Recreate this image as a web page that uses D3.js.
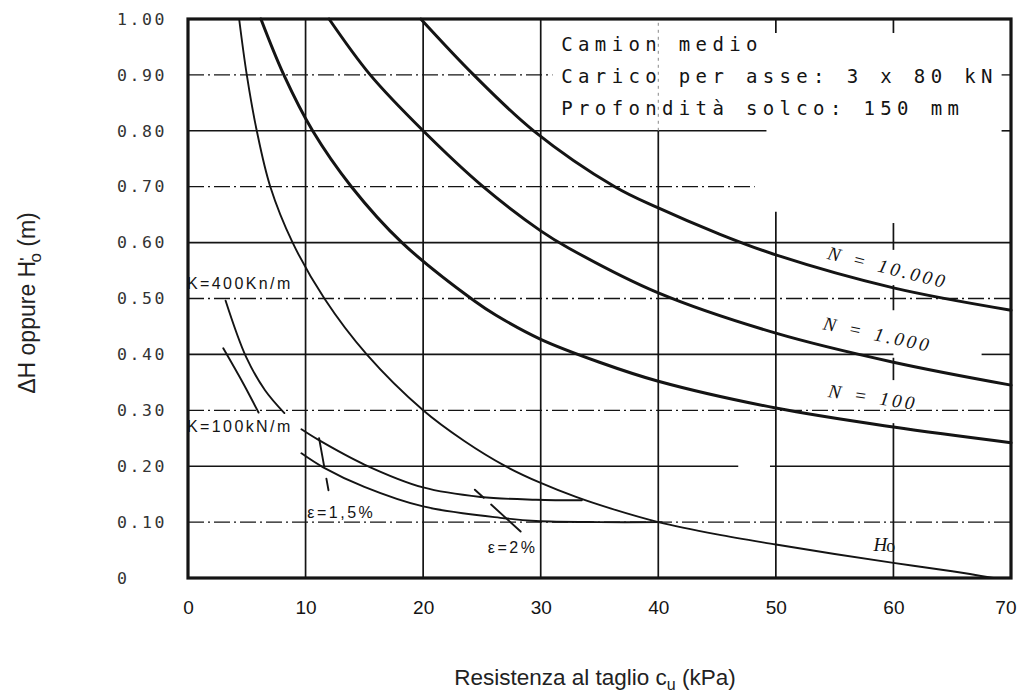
<!DOCTYPE html>
<html><head><meta charset="utf-8">
<script src="https://cdn.jsdelivr.net/npm/d3@7"></script>
<style>
html,body{margin:0;padding:0;background:#fff;}
svg{display:block;}
</style>
</head><body>
<svg id="chart" width="1019" height="692"></svg>
<script>
// ---------- data ----------
const xTicks = [0, 10, 20, 30, 40, 50, 60, 70];
const xTickLabels = ["0", "10", "20", "30", "40", "50", "60", "70"];
const yTicks = [0, 0.1, 0.2, 0.3, 0.4, 0.5, 0.6, 0.7, 0.8, 0.9, 1.0];
const yTickLabels = ["0", "0.10", "0.20", "0.30", "0.40", "0.50", "0.60", "0.70", "0.80", "0.90", "1.00"];

// cu (kPa), value (m)
const curveH0 = [[4.35,1.0],[5.0,0.9],[5.85,0.8],[7.0,0.7],[8.9,0.6],[11.6,0.5],[15.2,0.4],[20,0.3],[23.5,0.245],[27.0,0.2],[30,0.17],[33,0.145],[36,0.124],[40,0.10],[45,0.078],[50,0.06],[55,0.043],[60,0.027],[65,0.012],[68.5,0.0]];
const curveN100 = [[6.2,1.0],[8.15,0.9],[10.6,0.8],[13.9,0.7],[18.2,0.6],[24.4,0.495],[26.2,0.47],[30,0.427],[35,0.386],[40,0.352],[50,0.304],[60,0.27],[70,0.242]];
const curveN1000 = [[12.0,1.0],[15.5,0.9],[20.0,0.8],[25.1,0.7],[30,0.621],[32.4,0.59],[40,0.51],[50,0.438],[60,0.386],[70,0.345]];
const curveN10000 = [[19.8,1.0],[24.3,0.9],[29.4,0.8],[36.3,0.70],[40,0.662],[45,0.617],[50,0.578],[60,0.519],[70,0.479]];
const curveK400 = [[3.2,0.496],[4.95,0.395],[6.55,0.336],[8.2,0.295]];
const curveK100 = [[3.0,0.411],[4.7,0.348],[6.0,0.296]];
const curveEpsUpper = [[9.65,0.266],[11.1,0.247],[15.0,0.203],[20,0.162],[24.9,0.145],[29.6,0.14],[33.5,0.139]];
const curveEpsLower = [[9.65,0.223],[11.5,0.198],[15,0.163],[20,0.128],[26.9,0.107],[29.6,0.102],[35,0.10],[40.3,0.10]];
const lineEps15 = [[11.15,0.25],[11.95,0.157]];
const lineEps2 = [[24.4,0.158],[28.3,0.083]];

const nLabels = ["N = 10.000", "N = 1.000", "N = 100"];
const kLabels = ["K=400Kn/m", "K=100kN/m"];
const epsLabels = ["ε=1,5%", "ε=2%"];
const noteLines = ["Camion medio", "Carico per asse: 3 x 80 kN", "Profondità solco: 150 mm"];
const xTitle = "Resistenza al taglio c";
const yTitle = "ΔH oppure H";

// ---------- drawing ----------
const svg = d3.select("#chart");
const ink = "#141414";
const x = d3.scaleLinear().domain([0, 70]).range([188, 1011]);
const y = d3.scaleLinear().domain([0, 1]).range([578, 19]);

// grid (with the gaps of the original figure)
const hGrid = [
  {v:0.1, dd:true,  segs:[[0,70]]},
  {v:0.2, dd:false, segs:[[0,46.8],[49.5,70]]},
  {v:0.3, dd:true,  segs:[[0,70]]},
  {v:0.4, dd:false, segs:[[0,60],[67.5,70]]},
  {v:0.5, dd:true,  segs:[[0,70]]},
  {v:0.6, dd:false, segs:[[0,70]]},
  {v:0.7, dd:true,  segs:[[0,48.2]]},
  {v:0.8, dd:false, segs:[[0,49.2],[69.2,70]]},
  {v:0.9, dd:true,  segs:[[0,31],[69.2,70]]}
];
const vGrid = [
  {v:10, segs:[[0,1]]},
  {v:20, segs:[[0,1]]},
  {v:30, segs:[[0,1]]},
  {v:40, segs:[[0,0.8]], faint:[[0.8,1]]},
  {v:50, segs:[[0,0.655],[0.975,1]]},
  {v:60, segs:[[0,0.277],[0.354,0.394],[0.479,0.524],[0.587,0.635],[0.975,1]]}
];
const grid = svg.append("g");
hGrid.forEach(g => g.segs.forEach(s => {
  grid.append("line").attr("x1", x(s[0])).attr("x2", x(s[1]))
    .attr("y1", y(g.v)).attr("y2", y(g.v))
    .attr("stroke", ink).attr("stroke-width", g.dd ? 1.3 : 1.6)
    .attr("stroke-dasharray", g.dd ? "16,4,2,4" : null);
}));
vGrid.forEach(g => {
  g.segs.forEach(s => {
    grid.append("line").attr("x1", x(g.v)).attr("x2", x(g.v))
      .attr("y1", y(s[0])).attr("y2", y(s[1]))
      .attr("stroke", ink).attr("stroke-width", 1.7);
  });
  (g.faint || []).forEach(s => {
    grid.append("line").attr("x1", x(g.v)).attr("x2", x(g.v))
      .attr("y1", y(s[0])).attr("y2", y(s[1]))
      .attr("stroke", "#888").attr("stroke-width", 1)
      .attr("stroke-dasharray", "3,4");
  });
});

// frame
svg.append("rect").attr("x", x(0)).attr("y", y(1))
  .attr("width", x(70) - x(0)).attr("height", y(0) - y(1))
  .attr("fill", "none").attr("stroke", ink).attr("stroke-width", 3.2);

// axes
const xAxis = svg.append("g").attr("transform", `translate(0,${y(0)})`)
  .call(d3.axisBottom(x).tickValues(xTicks).tickSize(0).tickPadding(23)
    .tickFormat((d, i) => xTickLabels[i]));
xAxis.select(".domain").remove();
xAxis.selectAll("text").attr("fill", ink)
  .style("font-family", "'Liberation Sans',Arial,sans-serif")
  .style("font-size", "19px");
xAxis.selectAll("text").filter(d => d === 70).attr("text-anchor", "end").attr("x", 5);

const yAxis = svg.append("g").attr("transform", `translate(${x(0)},0)`)
  .call(d3.axisLeft(y).tickValues(yTicks).tickSize(0)
    .tickFormat((d, i) => yTickLabels[i]));
yAxis.select(".domain").remove();
yAxis.selectAll("text").attr("fill", "#333").attr("text-anchor", "start")
  .attr("x", 117 - x(0))
  .style("font-family", "'DejaVu Sans Mono',monospace")
  .style("font-size", "16.5px").style("letter-spacing", "2.6px");

// curves
const line = d3.line().x(d => x(d[0])).y(d => y(d[1])).curve(d3.curveCatmullRom.alpha(0.5));
const straight = d3.line().x(d => x(d[0])).y(d => y(d[1]));
const curves = svg.append("g").attr("fill", "none").attr("stroke", ink)
  .attr("stroke-linecap", "round");
[[curveN100, 3], [curveN1000, 3], [curveN10000, 3],
 [curveH0, 1.9], [curveK400, 1.9], [curveK100, 1.9],
 [curveEpsUpper, 1.9], [curveEpsLower, 1.9]].forEach(([d, w]) => {
  curves.append("path").attr("d", line(d)).attr("stroke-width", w);
});
curves.append("path").attr("d", straight(lineEps15)).attr("stroke-width", 1.9)
  .attr("stroke-dasharray", "28,13,14");
curves.append("path").attr("d", straight(lineEps2)).attr("stroke-width", 1.9)
  .attr("stroke-dasharray", "12,10,40");

// N labels
const nPos = [[54.3, 0.571, 14], [53.95, 0.445, 12], [54.4, 0.324, 8.5]];
nLabels.forEach((t, i) => {
  const [cx, cy, a] = nPos[i];
  svg.append("text").text(t)
    .attr("transform", `translate(${x(cx)},${y(cy)}) rotate(${a})`)
    .attr("fill", ink)
    .style("font-family", "'Liberation Serif','DejaVu Serif',serif")
    .style("font-style", "italic").style("font-size", "19px")
    .style("letter-spacing", "3.2px").style("word-spacing", "2px")
    .attr("xml:space", "preserve");
});

// H0 label
const h0t = svg.append("text").attr("x", x(58.3)).attr("y", y(0.048)).attr("fill", ink)
  .style("font-family", "'Liberation Serif',serif").style("font-style", "italic")
  .style("font-size", "19px");
h0t.append("tspan").text("H");
h0t.append("tspan").text("o").style("font-style", "normal").style("font-size", "18px")
  .attr("dy", 1).attr("dx", -1);

// K labels
const kPos = [0.517, 0.262];
kLabels.forEach((t, i) => {
  svg.append("text").text(t).attr("x", x(0) - 1).attr("y", y(kPos[i])).attr("fill", ink)
    .style("font-family", "'Liberation Sans',Arial,sans-serif")
    .style("font-size", "16px").style("letter-spacing", "2.4px");
});

// epsilon labels
const ePos = [[10.15, 0.107], [25.5, 0.045]];
epsLabels.forEach((t, i) => {
  svg.append("text").text(t).attr("x", x(ePos[i][0])).attr("y", y(ePos[i][1])).attr("fill", ink)
    .style("font-family", "'Liberation Sans',Arial,sans-serif")
    .style("font-size", "16px").style("letter-spacing", "2.5px");
});

// note
const noteY = [0.943, 0.886, 0.828];
noteLines.forEach((t, i) => {
  svg.append("text").text(t).attr("x", x(31.75)).attr("y", y(noteY[i])).attr("fill", ink)
    .style("font-family", "'DejaVu Sans Mono',monospace")
    .style("font-size", "19px").style("letter-spacing", "5.35px")
    .attr("xml:space", "preserve");
});

// axis titles
const xt = svg.append("text").attr("x", 595).attr("y", 685).attr("text-anchor", "middle")
  .attr("fill", "#222")
  .style("font-family", "'Liberation Sans',Arial,sans-serif").style("font-size", "22.5px");
xt.append("tspan").text(xTitle);
xt.append("tspan").text("u").attr("dy", 5).style("font-size", "16px");
xt.append("tspan").text(" (kPa)").attr("dy", -5);

const yt = svg.append("text").attr("transform", "translate(35,303) rotate(-90)")
  .attr("text-anchor", "middle").attr("fill", "#222")
  .style("font-family", "'Liberation Sans',Arial,sans-serif").style("font-size", "23px");
yt.append("tspan").text(yTitle);
yt.append("tspan").text("'").attr("dy", -3).style("font-size", "17px");
yt.append("tspan").text("o").attr("dy", 9).attr("dx", -5).style("font-size", "17px");
yt.append("tspan").text(" (m)").attr("dy", -6);
</script>
</body></html>
